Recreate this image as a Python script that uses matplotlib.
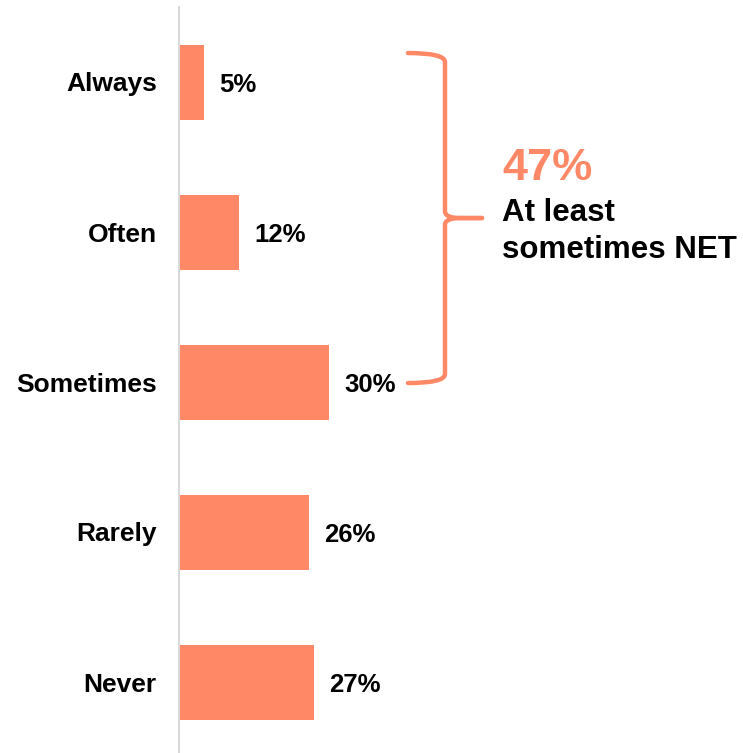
import matplotlib
matplotlib.use('Agg')
import matplotlib.pyplot as plt
from matplotlib.path import Path
from matplotlib.patches import PathPatch

plt.rcParams['font.family'] = ['Liberation Sans', 'DejaVu Sans']
plt.rcParams['font.weight'] = 'bold'

categories = ['Always', 'Often', 'Sometimes', 'Rarely', 'Never']
values = [5, 12, 30, 26, 27]
net_lines = ['At least', 'sometimes NET']

salmon = '#FF8866'

W, H, DPI = 743, 753, 100
fig = plt.figure(figsize=(W / DPI, H / DPI), dpi=DPI)
# axes start right at the bar baseline; 5 px per percentage point
left_px, top_px = 179, 7
ax = fig.add_axes([left_px / W, 0, 1 - left_px / W, 1 - top_px / H])
ax.set_xlim(0, (W - left_px) / 5)
ax.set_ylim((H - 82) / 150, -0.5)

ypos = list(range(len(categories)))
ax.barh(ypos, values, height=0.5, color=salmon, zorder=2)
for y, v in zip(ypos, values):
    ax.text(v + 3, y + 0.067, f'{v}%', va='baseline', ha='left',
            fontsize=18.5, fontweight='bold', color='black')

ax.set_yticks(ypos)
ax.set_yticklabels(categories, fontsize=19, fontweight='bold')
ax.tick_params(axis='y', length=0, pad=16)
ax.set_xticks([])
for s in ['top', 'right', 'bottom']:
    ax.spines[s].set_visible(False)
ax.spines['left'].set_color('#D9D9D9')
ax.spines['left'].set_linewidth(1.5)

# curly brace grouping the first three answers
top, bot = -0.193, 2.007
mid = (top + bot) / 2
x0 = max(values[:3]) + 15.8
x1 = x0 + 7.4
x2 = x1 + 7.4
r, rt = 0.06, 0.045
xt = x1 + 3
upper = Path([(x0, top), (x1, top), (x1, top + r),
              (x1, mid - rt), (x1, mid), (xt, mid), (x2, mid)],
             [Path.MOVETO, Path.CURVE3, Path.CURVE3,
              Path.LINETO, Path.CURVE3, Path.CURVE3, Path.LINETO])
lower = Path([(x0, bot), (x1, bot), (x1, bot - r),
              (x1, mid + rt), (x1, mid), (xt, mid), (x2, mid)],
             [Path.MOVETO, Path.CURVE3, Path.CURVE3,
              Path.LINETO, Path.CURVE3, Path.CURVE3, Path.LINETO])
for p in (upper, lower):
    ax.add_patch(PathPatch(p, fill=False, edgecolor=salmon, lw=3.2,
                           capstyle='round', joinstyle='round', clip_on=False))

net = sum(values[:3])
tx = (502 - left_px) / 5
ax.text(tx, 0.653, f'{net}%', color=salmon, fontsize=32.5, fontweight='bold',
        va='baseline', ha='left')
for yb, line in zip([0.927, 1.173], net_lines):
    ax.text(tx, yb, line, color='black', fontsize=22.5, fontweight='bold',
            va='baseline', ha='left')

fig.savefig('out.png', dpi=DPI)
